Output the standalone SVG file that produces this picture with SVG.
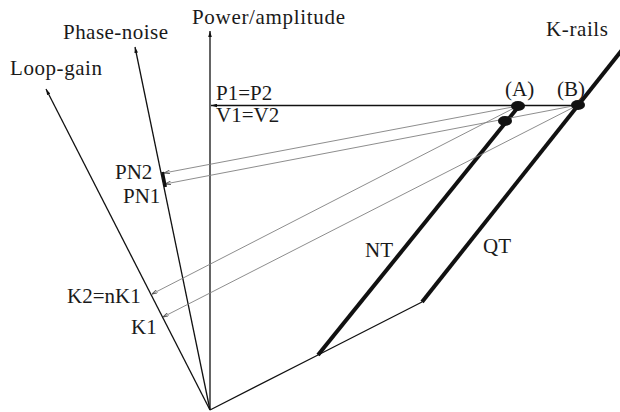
<svg xmlns="http://www.w3.org/2000/svg" width="620" height="412" viewBox="0 0 620 412">
<style>
.t{font-family:"Liberation Serif","Times New Roman",serif;font-size:21px;fill:#1a1a1a}
.ax{stroke:#111;stroke-width:1.3;fill:none}
.rail{stroke:#111;stroke-width:4;fill:none}
.g{stroke:#808080;stroke-width:0.9;fill:none}
.dot{fill:#111}
</style>
<defs>
<marker id="ah" viewBox="0 0 10 6" refX="10" refY="3" markerWidth="6" markerHeight="4" markerUnits="userSpaceOnUse" orient="auto">
<path d="M0,0 L10,3 L0,6 Z" fill="#111"/>
</marker>
<marker id="gh" viewBox="0 0 10 6" refX="10" refY="3" markerWidth="6" markerHeight="4" markerUnits="userSpaceOnUse" orient="auto">
<path d="M0,0 L10,3 L0,6" fill="none" stroke="#555" stroke-width="1.5"/>
</marker>
</defs>
<g id="connectors">
<line id="power-axis" class="ax" x1="210" y1="410" x2="210" y2="31" marker-end="url(#ah)"/>
<line id="phase-axis" class="ax" x1="210" y1="410" x2="135" y2="47" marker-end="url(#ah)"/>
<line id="loop-axis" class="ax" x1="210" y1="410" x2="46" y2="89" marker-end="url(#ah)"/>
<line id="horiz" class="ax" x1="578" y1="105.5" x2="211" y2="105.5" marker-end="url(#ah)"/>
<polyline id="base" class="ax" points="210,410 318,355 422,302"/>
<line id="nt-rail" class="rail" x1="318" y1="355" x2="519" y2="106"/>
<line id="qt-rail" class="rail" x1="422" y1="302" x2="622" y2="50"/>
<line class="g" x1="518" y1="106" x2="164" y2="173" marker-end="url(#gh)"/>
<line class="g" x1="578" y1="105" x2="165" y2="184" marker-end="url(#gh)"/>
<line class="g" x1="518" y1="106" x2="152" y2="294" marker-end="url(#gh)"/>
<line class="g" x1="578" y1="105" x2="163" y2="317" marker-end="url(#gh)"/>
<line id="pn-seg" stroke="#111" stroke-width="3" x1="162.5" y1="172" x2="165.5" y2="187"/>
</g>
<g id="node-A"><ellipse class="dot" cx="518" cy="106" rx="7" ry="5"/><text class="t" x="505" y="96">(A)</text></g>
<g id="node-B"><ellipse class="dot" cx="578" cy="105" rx="7" ry="5"/><text class="t" x="557" y="96">(B)</text></g>
<g id="node-C"><ellipse class="dot" cx="505" cy="121" rx="7" ry="5"/></g>
<g id="labels">
<text class="t" x="192" y="24" textLength="153">Power/amplitude</text>
<text class="t" x="63" y="39" textLength="105">Phase-noise</text>
<text class="t" x="10" y="75" textLength="92">Loop-gain</text>
<text class="t" x="546" y="36" textLength="62">K-rails</text>
<text class="t" x="216" y="100">P1=P2</text>
<text class="t" x="216" y="122">V1=V2</text>
<text class="t" x="115" y="179">PN2</text>
<text class="t" x="123" y="203">PN1</text>
<text class="t" x="365" y="257">NT</text>
<text class="t" x="483" y="253">QT</text>
<text class="t" x="67" y="303">K2=nK1</text>
<text class="t" x="131" y="334">K1</text>
</g>
</svg>
